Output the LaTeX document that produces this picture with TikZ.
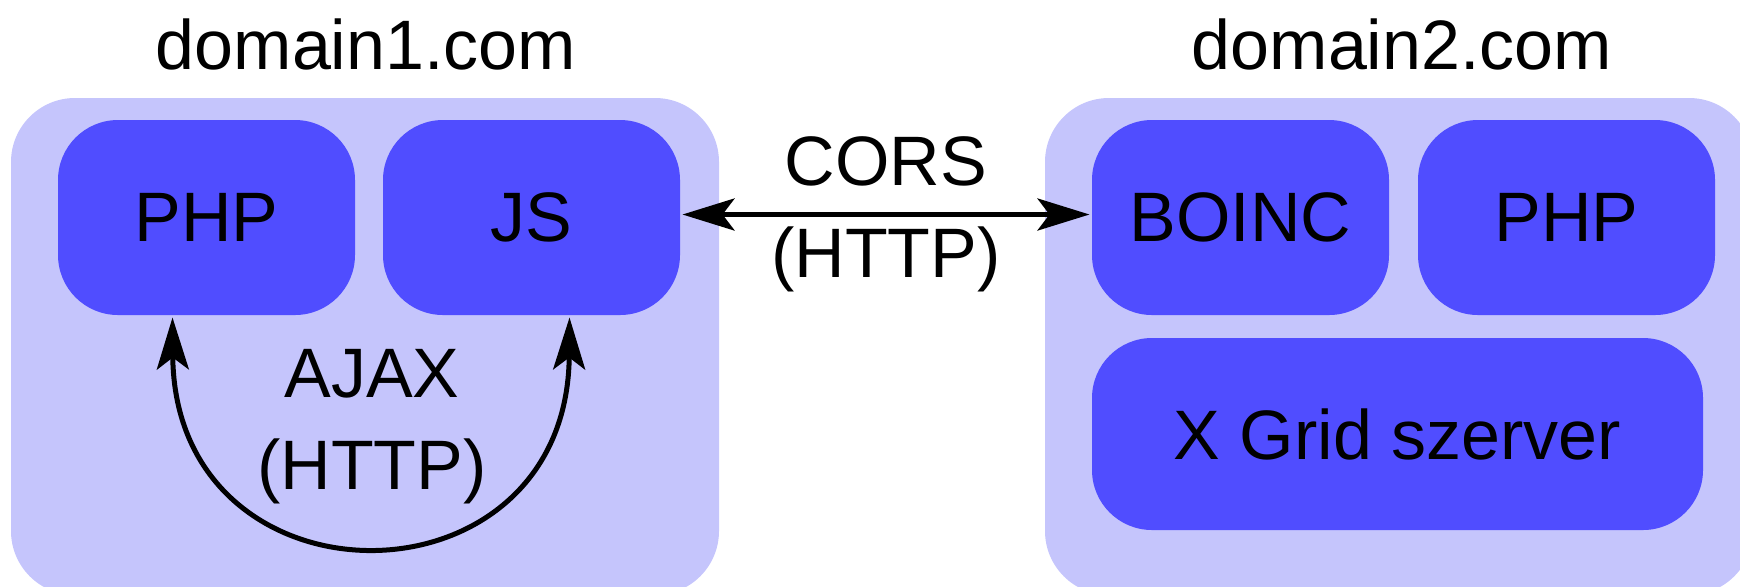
\documentclass[tikz,border=0pt]{standalone}
\usepackage{fontspec}
\setmainfont{Liberation Sans}
\usepackage{tikz}
\usetikzlibrary{arrows.meta}
\usetikzlibrary{positioning}
\definecolor{outerblue}{RGB}{197,197,252}
\definecolor{innerblue}{RGB}{80,77,255}
\tikzstyle{domainbox}=[fill=outerblue,rounded corners=32pt,minimum width=354pt,minimum height=248.5pt]
\tikzstyle{partbox}=[fill=innerblue,rounded corners=30pt,minimum width=148.5pt,minimum height=97.5pt,inner sep=0pt]

\begin{document}
\begin{tikzpicture}[x=0.5pt,y=-0.5pt,line width=2.5pt,font=\fontsize{35}{46}\selectfont,>={Stealth[length=26pt,width=16pt,inset=6pt]}]
\clip (0,0) rectangle (1740,586);
\node [domainbox] (d1) at (365,346.5) {};
\node [domainbox] (d2) at (1399,346.5) {};
\node (t1) at (366,44) {domain1.com};
\node (t2) at (1402,44) {domain2.com};
\node [partbox] (php1) at (206.5,217.5) {PHP};
\node [partbox,right=11.5pt of php1] (js) {JS};
\node [partbox] (boinc) at (1240.5,217.5) {BOINC};
\node [partbox,right=12pt of boinc] (php2) {PHP};
\node [partbox,minimum width=305.5pt,minimum height=96pt,below right=9pt and 0pt of boinc.south west] (xgrid) {X Grid szerver};
\draw [<->] ([yshift=1.5pt]js.east) -- node[align=center] (cors) {CORS\\(HTTP)} ([yshift=1.5pt]boinc.west);
\draw [<->] ([xshift=-17pt]php1.south) .. controls +(2,298) and +(-2,298) .. ([xshift=19pt]js.south);
\node [align=center] (ajax) at (372,427) {AJAX\\(HTTP)};
\end{tikzpicture}
\end{document}
